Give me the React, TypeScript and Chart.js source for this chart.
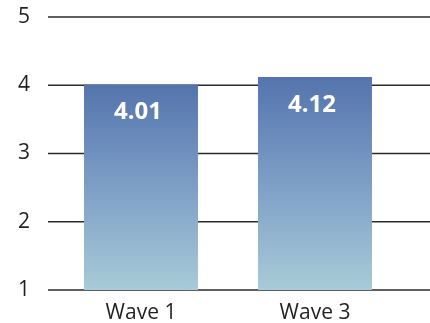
import React, { useEffect, useRef } from "react";
import { Chart, registerables } from "chart.js";

Chart.register(...registerables);

const categories: string[] = ["Wave 1", "Wave 3"];
const scores: number[] = [4.01, 4.12];
const yTicks: number[] = [1, 2, 3, 4, 5];

const FONT = "'Open Sans', 'Noto Sans', sans-serif";
const TEXT = "#231f20";

// Horizontal rules for every y tick, running from just left of the plot to the canvas edge.
const ruleLines = {
  id: "ruleLines",
  beforeDatasetsDraw(chart: any) {
    const { ctx, chartArea, scales } = chart;
    const y = scales.y;
    ctx.save();
    ctx.strokeStyle = "#2b2b2b";
    ctx.lineWidth = 1.6;
    yTicks.forEach((t) => {
      const py = y.getPixelForValue(t);
      ctx.beginPath();
      ctx.moveTo(chartArea.left - 6, py);
      ctx.lineTo(chart.width, py);
      ctx.stroke();
    });
    ctx.restore();
  },
};

// White value labels printed inside the top of each bar.
const valueLabels = {
  id: "valueLabels",
  afterDatasetsDraw(chart: any) {
    const { ctx } = chart;
    const meta = chart.getDatasetMeta(0);
    ctx.save();
    ctx.fillStyle = "#ffffff";
    ctx.font = `bold 24px ${FONT}`;
    ctx.textAlign = "center";
    ctx.textBaseline = "middle";
    meta.data.forEach((bar: any, i: number) => {
      ctx.fillText(scores[i].toFixed(2), bar.x - 3, bar.y + 28);
    });
    ctx.restore();
  },
};

export default function App() {
  const canvasRef = useRef<HTMLCanvasElement | null>(null);

  useEffect(() => {
    document.body.style.margin = "0";
    const canvas = canvasRef.current;
    if (!canvas) return;

    const chart = new Chart(canvas, {
      type: "bar",
      data: {
        labels: categories,
        datasets: [
          {
            data: scores,
            categoryPercentage: 1,
            barPercentage: 0.655,
            borderWidth: 0,
            backgroundColor: (c: any) => {
              const ch = c.chart;
              const { ctx, chartArea, scales } = ch;
              if (!chartArea) return "#7fa0c6";
              const top = scales.y.getPixelForValue(c.raw as number);
              const bottom = scales.y.getPixelForValue(scales.y.min);
              const g = ctx.createLinearGradient(0, top, 0, bottom);
              g.addColorStop(0, "#5474ad");
              g.addColorStop(0.5, "#7d9fc6");
              g.addColorStop(1, "#a8cbd7");
              return g;
            },
          },
        ],
      },
      options: {
        responsive: false,
        animation: false,
        layout: { padding: { left: 0, right: 28, top: 17, bottom: 0 } },
        plugins: {
          legend: { display: false },
          tooltip: { enabled: false },
        },
        scales: {
          x: {
            grid: { display: false },
            border: { display: false },
            ticks: {
              color: TEXT,
              font: { family: FONT, size: 21 },
              padding: 2,
            },
            afterFit: (s: any) => {
              s.height = 33;
              s.paddingLeft = 0;
              s.paddingRight = 0;
            },
          },
          y: {
            min: 1,
            max: 5,
            grid: { display: false },
            border: { display: false },
            afterBuildTicks: (s: any) => {
              s.ticks = yTicks.map((v) => ({ value: v }));
            },
            ticks: {
              color: TEXT,
              font: { family: FONT, size: 21 },
              padding: 16,
            },
            afterFit: (s: any) => {
              s.width = 54;
              s.paddingTop = 0;
              s.paddingBottom = 0;
            },
          },
        },
      },
      plugins: [ruleLines, valueLabels],
    });

    return () => chart.destroy();
  }, []);

  return <canvas ref={canvasRef} width={430} height={323} />;
}
